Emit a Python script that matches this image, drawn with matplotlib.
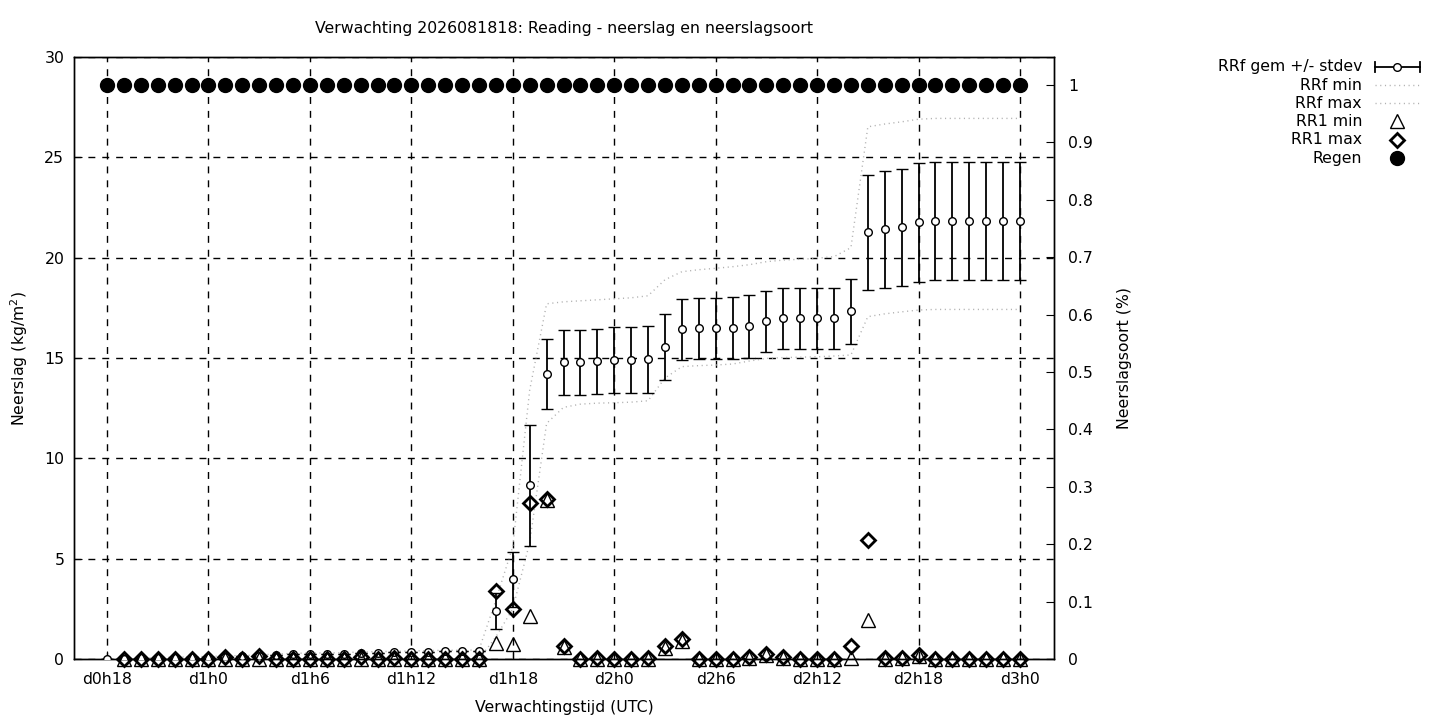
import numpy as np
import matplotlib
matplotlib.use("Agg")
import matplotlib.pyplot as plt

# ---------------- data ----------------
hours = list(range(55))  # forecast hours since d0h18

rrf_mean = [0.0,
            0.02, 0.03, 0.05, 0.06, 0.08, 0.10, 0.12, 0.14, 0.17, 0.20,
            0.23, 0.23, 0.24, 0.25, 0.28, 0.31, 0.34, 0.35, 0.36, 0.38, 0.39, 0.40,
            2.38, 3.97, 8.65, 14.19, 14.78, 14.78, 14.83, 14.88, 14.88, 14.93,
            15.56, 16.43, 16.48, 16.48, 16.50, 16.58, 16.83, 16.97, 16.97, 16.97,
            16.97, 17.32, 21.26, 21.41, 21.51, 21.76,
            21.81, 21.81, 21.81, 21.81, 21.81, 21.81]

rrf_std = [0.0] * 23 + [
            0.90, 1.38, 3.00, 1.75, 1.64, 1.64, 1.64, 1.64, 1.64, 1.66,
            1.64, 1.53, 1.52, 1.52, 1.55, 1.58, 1.51, 1.53, 1.52, 1.52,
            1.52, 1.61, 2.88, 2.92, 2.90, 2.95,
            2.94, 2.94, 2.94, 2.94, 2.94, 2.94]

rrf_min = [0.0] * 23 + [
            1.10, 2.50, 5.80, 11.74, 12.54, 12.70, 12.75, 12.77, 12.80, 12.87,
            14.00, 14.57, 14.62, 14.65, 14.70, 14.85, 14.98, 15.02, 15.04, 15.06,
            15.10, 15.15, 17.06, 17.20, 17.30, 17.39,
            17.42, 17.42, 17.42, 17.42, 17.42, 17.42]

rrf_max = [0.0,
           0.03, 0.05, 0.07, 0.09, 0.11, 0.13, 0.15, 0.18, 0.20,
           0.25, 0.28, 0.30, 0.30, 0.32, 0.35, 0.37, 0.38, 0.40, 0.42, 0.43, 0.44, 0.45,
           2.94, 5.60, 13.40, 17.70, 17.80, 17.85, 17.90, 17.95, 18.00, 18.10,
           18.90, 19.30, 19.40, 19.47, 19.55, 19.65, 19.80, 19.88, 19.92, 19.97,
           20.05, 20.50, 26.52, 26.66, 26.77, 26.90,
           26.94, 26.94, 26.94, 26.94, 26.94, 26.94]

rr1_min = [np.nan,
           0, 0, 0, 0, 0, 0, 0, 0, 0, 0,
           0, 0, 0, 0, 0, 0, 0, 0, 0, 0, 0, 0,
           0.81, 0.75, 2.14, 7.90, 0.60, 0, 0, 0, 0, 0,
           0.55, 0.90, 0, 0, 0, 0.05, 0.20, 0.05, 0, 0,
           0, 0.05, 1.94, 0, 0.03, 0.15,
           0, 0, 0, 0, 0, 0]

rr1_max = [np.nan,
           0, 0, 0, 0, 0, 0, 0.08, 0, 0.15, 0.02,
           0, 0, 0, 0, 0.08, 0, 0.05, 0, 0, 0, 0, 0,
           3.39, 2.48, 7.79, 7.96, 0.65, 0, 0.03, 0, 0, 0.03,
           0.67, 1.00, 0, 0, 0, 0.12, 0.23, 0.12, 0, 0,
           0, 0.65, 5.93, 0.03, 0.07, 0.22,
           0, 0, 0, 0, 0, 0]

regen = [1.0] * 55

title = "Verwachting 2026081818: Reading - neerslag en neerslagsoort"
start_hour = 18
tick_hours = list(range(0, 55, 6))
tick_labels = ["d%dh%d" % ((start_hour + h) // 24, (start_hour + h) % 24) for h in tick_hours]
right_ticks = [0, 0.1, 0.2, 0.3, 0.4, 0.5, 0.6, 0.7, 0.8, 0.9, 1.0]
right_labels = ["0", "0.1", "0.2", "0.3", "0.4", "0.5", "0.6", "0.7", "0.8", "0.9", "1"]
legend_labels = ["RRf gem +/- stdev", "RRf min", "RRf max", "RR1 min", "RR1 max", "Regen"]

# ---------------- figure ----------------
plt.rcParams['font.family'] = ['DejaVu Sans']
FS = 11.3
fig = plt.figure(figsize=(14.4, 7.2), dpi=100)
ax = fig.add_axes([74 / 1440, 1 - 659 / 720, (1054 - 74) / 1440, (659 - 57) / 720])
ax2 = ax.twinx()

x0 = (74 - 107) / ((1020 - 107) / 54)
x1 = (1054 - 107) / ((1020 - 107) / 54)
ax.set_xlim(x0, x1)
ax.set_ylim(0, 30)
ax2.set_ylim(0, (659 - 57) / (659 - 85))

gray = "#b0b0b0"
dots = (0, (0.8, 2.6))
ax.plot(hours, rrf_min, linestyle=dots, color=gray, lw=1.0, zorder=2)
ax.plot(hours, rrf_max, linestyle=dots, color=gray, lw=1.0, zorder=2)
ax.errorbar(hours, rrf_mean, yerr=rrf_std, fmt='o', ms=5.5, mfc='white', mec='black',
            mew=1.0, ecolor='black', elinewidth=1.3, capsize=4, capthick=1.3, zorder=3)
ax.plot(hours, rr1_min, linestyle='none', marker='^', ms=10, mfc='none', mec='black',
        mew=1.0, zorder=4, clip_on=False)
ax.plot(hours, rr1_max, linestyle='none', marker='D', ms=7.5, mfc='none', mec='black',
        mew=2.0, zorder=5, clip_on=False)
ax2.plot(hours, regen, linestyle='none', marker='o', ms=10, color='black', zorder=6)

# axes, ticks and grid
ax.set_xticks(tick_hours)
ax.set_xticklabels(tick_labels, fontsize=FS)
ax.set_yticks([0, 5, 10, 15, 20, 25, 30])
ax.tick_params(axis='y', labelsize=FS, direction='in', length=6, right=False, pad=7)
ax.tick_params(axis='x', labelsize=FS, direction='in', length=6, top=False, pad=9)
ax.grid(True, color='black', linestyle=(0, (5, 5)), lw=1.0)
ax2.set_yticks(right_ticks)
ax2.set_yticklabels(right_labels, fontsize=FS)
ax2.tick_params(axis='y', direction='in', length=6, pad=10)
for a in (ax, ax2):
    for s in a.spines.values():
        s.set_linewidth(1.0)

ax.set_title(title, fontsize=FS, pad=17)
ax.set_xlabel("Verwachtingstijd (UTC)", fontsize=FS, labelpad=10)
ax.set_ylabel("Neerslag (kg/m$^2$)", fontsize=FS, labelpad=10)
ax2.set_ylabel("Neerslagsoort (%)", fontsize=FS, labelpad=17.5)
ax.set_zorder(ax2.get_zorder() + 1)
ax.patch.set_visible(False)

# ---------------- legend (outside the plot) ----------------
lax = fig.add_axes([0, 0, 1, 1], facecolor='none')
lax.set_xlim(0, 1440)
lax.set_ylim(720, 0)
lax.axis('off')
rows_y = [67, 85, 103, 121, 140, 158]
for y, lab in zip(rows_y, legend_labels):
    lax.text(1362, y, lab, ha='right', va='center', fontsize=FS)
xs0, xs1, xc = 1375, 1420, 1397
y = rows_y[0]
lax.plot([xs0, xs1], [y, y], color='black', lw=1.3)
lax.plot([xs0, xs0], [y - 5, y + 5], color='black', lw=1.3)
lax.plot([xs1, xs1], [y - 5, y + 5], color='black', lw=1.3)
lax.plot([xc], [y], marker='o', ms=5.5, mfc='white', mec='black', mew=1.0)
for y in rows_y[1:3]:
    lax.plot([xs0, xs1], [y, y], linestyle=dots, color=gray, lw=1.0)
lax.plot([xc], [rows_y[3]], marker='^', ms=10, mfc='none', mec='black', mew=1.0)
lax.plot([xc], [rows_y[4]], marker='D', ms=7.5, mfc='none', mec='black', mew=2.0)
lax.plot([xc], [rows_y[5]], marker='o', ms=10, color='black')

fig.savefig("out.png", dpi=100)
